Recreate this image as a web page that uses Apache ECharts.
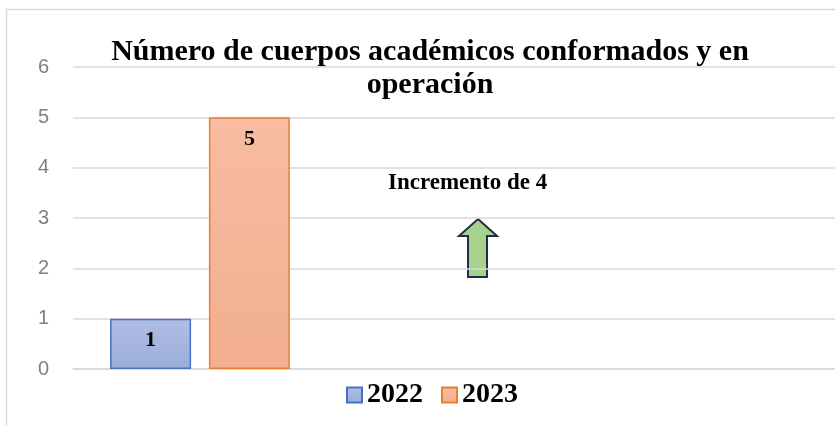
<!DOCTYPE html>
<html>
<head>
<meta charset="utf-8">
<script src="https://cdn.jsdelivr.net/npm/echarts@6/dist/echarts.min.js"></script>
<style>html,body{margin:0;padding:0;background:#fff}#c{width:835px;height:425px}</style>
</head>
<body>
<div id="c"></div>
<script>
var categories = ['Cuerpos académicos', '', ''];
var values2022 = [1, null, null];
var values2023 = [5, null, null];
var seriesNames = ['2022', '2023'];
var titleText = 'Número de cuerpos académicos conformados y en\noperación';
var noteText = 'Incremento de 4';

var chart = echarts.init(document.getElementById('c'));
var serif = '"Liberation Serif", "Times New Roman", serif';
var labelStyle = {show: true, position: 'insideTop', distance: 11, color: '#000', fontFamily: serif, fontWeight: 'bold', fontSize: 22};
chart.setOption({
  animation: false,
  backgroundColor: '#fff',
  title: {
    text: titleText, left: 425, top: 31, textAlign: 'center',
    textStyle: {fontFamily: serif, fontWeight: 'bold', fontSize: 30, lineHeight: 32.5, color: '#000'}
  },
  legend: {
    data: seriesNames, left: 341, top: 376, itemWidth: 15, itemHeight: 15, itemGap: 18, icon: 'rect',
    textStyle: {fontFamily: serif, fontWeight: 'bold', fontSize: 28, color: '#000'}
  },
  grid: {left: 73, right: 0, top: 67, bottom: 56},
  xAxis: {
    type: 'category', data: categories,
    axisLine: {lineStyle: {color: '#d9d9d9', width: 1.5}}, axisTick: {show: false}, axisLabel: {show: false}
  },
  yAxis: {
    type: 'value', min: 0, max: 6, interval: 1,
    axisLine: {show: false}, axisTick: {show: false},
    axisLabel: {margin: 24, color: '#7f7f7f', fontSize: 20, fontFamily: '"Liberation Sans", Arial, sans-serif'},
    splitLine: {lineStyle: {color: '#d9d9d9', width: 1.5}}
  },
  series: [
    {name: seriesNames[0], type: 'bar', data: values2022, barWidth: 81, barGap: '22%',
     itemStyle: {color: new echarts.graphic.LinearGradient(0,0,0,1,[{offset:0,color:'#afbee4'},{offset:1,color:'#9aacd9'}]), borderColor: '#4472c4', borderWidth: 1.5},
     label: labelStyle},
    {name: seriesNames[1], type: 'bar', data: values2023, barWidth: 81,
     itemStyle: {color: new echarts.graphic.LinearGradient(0,0,0,1,[{offset:0,color:'#f7bca2'},{offset:1,color:'#f2ae90'}]), borderColor: '#ed7d31', borderWidth: 1.5},
     label: labelStyle}
  ],
  graphic: [
    {type: 'rect', shape: {x: 6.5, y: 9.5, width: 1000, height: 1000}, style: {fill: 'none', stroke: '#d9d9d9', lineWidth: 1.5}, silent: true, z: -1},
    {type: 'text', left: 388, top: 172, style: {text: noteText, fontFamily: serif, fontWeight: 'bold', fontSize: 23, fill: '#000'}},
    {type: 'polygon', shape: {points: [[478,219],[497,236],[487,236],[487,277],[468,277],[468,236],[459,236]]},
     style: {fill: '#a9d18e', stroke: '#1f2d4d', lineWidth: 2}}
  ]
});
</script>
</body>
</html>
